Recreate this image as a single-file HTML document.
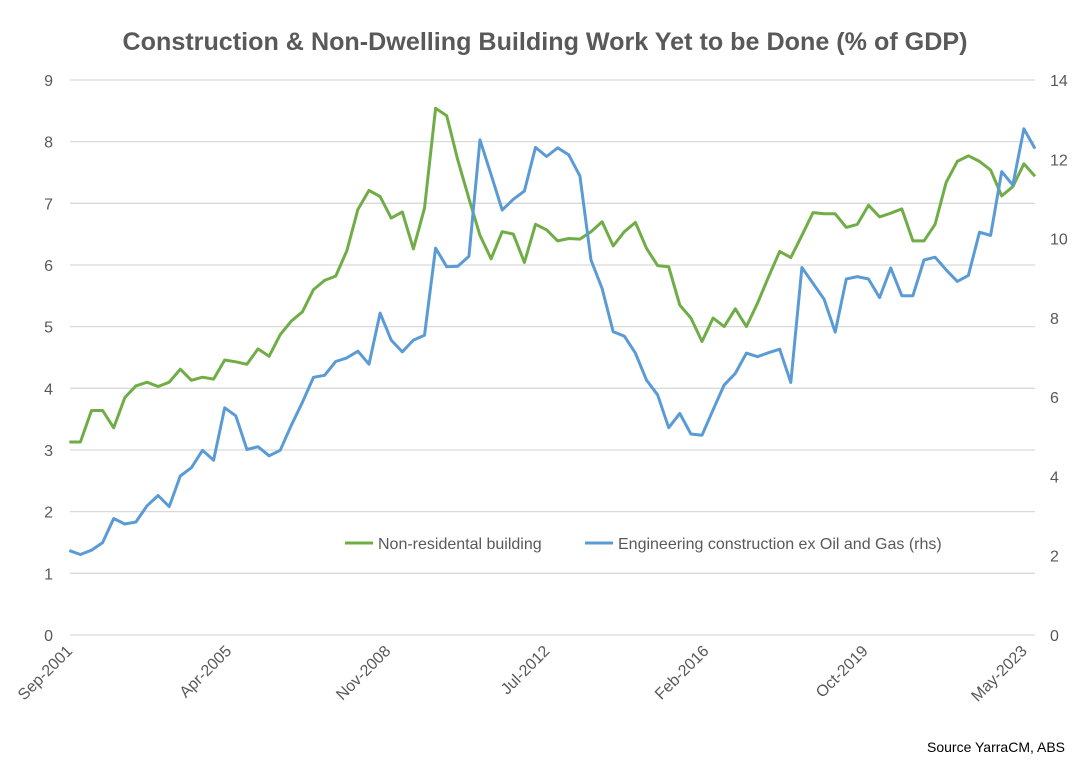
<!DOCTYPE html>
<html><head><meta charset="utf-8"><style>
html,body{margin:0;padding:0;background:#fff;}
svg{display:block;font-family:"Liberation Sans Narrow","Liberation Sans",sans-serif;}
</style></head><body>
<svg id="chart" width="1084" height="780" viewBox="0 0 1084 780" xmlns="http://www.w3.org/2000/svg">
<text x="545" y="50" text-anchor="middle" font-size="25" font-weight="bold" fill="#595959" textLength="845" lengthAdjust="spacingAndGlyphs">Construction &amp; Non-Dwelling Building Work Yet to be Done (% of GDP)</text>
<g id="grid"></g>
<g id="yl"></g>
<g id="yr"></g>
<g id="xl"></g>
<g id="series"></g>
<g>
<line x1="345" y1="543" x2="373" y2="543" stroke="#70AD47" stroke-width="3"/>
<text x="378" y="549" font-size="16" fill="#595959">Non-residental building</text>
<line x1="585" y1="543" x2="613" y2="543" stroke="#5B9BD5" stroke-width="3"/>
<text x="618" y="549" font-size="16" fill="#595959">Engineering construction ex Oil and Gas (rhs)</text>
</g>
<text x="1065" y="752" text-anchor="end" font-size="14" fill="#000">Source YarraCM, ABS</text>
</svg>
<script>
const nonResidential = [3.13,3.13,3.64,3.64,3.36,3.85,4.04,4.10,4.03,4.10,4.31,4.13,4.18,4.15,4.46,4.43,4.39,4.64,4.52,4.87,5.09,5.24,5.60,5.75,5.82,6.23,6.90,7.21,
7.11,6.76,6.86,6.26,6.92,8.54,8.42,7.70,7.08,6.48,6.10,6.54,6.50,6.04,6.66,6.57,6.39,6.43,6.42,6.54,6.70,6.31,6.54,6.69,6.27,5.99,5.97,5.35,5.14,
4.76,5.14,5.00,5.29,5.00,5.38,5.81,6.22,6.12,6.48,6.85,6.83,6.83,6.61,6.66,6.97,6.78,6.84,6.91,6.39,6.39,6.66,7.34,7.68,7.77,7.68,7.54,7.12,7.27,7.64,7.44];
const engineering = [2.13,2.03,2.14,2.33,2.94,2.80,2.85,3.26,3.52,3.24,4.01,4.22,4.66,4.41,5.73,5.53,4.68,4.75,4.52,4.66,5.29,5.87,6.50,6.55,6.90,6.99,7.16,6.83,
8.12,7.44,7.14,7.44,7.56,9.76,9.29,9.30,9.55,12.49,11.61,10.72,10.99,11.20,12.30,12.07,12.29,12.11,11.58,9.46,8.74,7.65,7.54,7.11,6.43,6.06,5.23,5.59,5.07,
5.04,5.68,6.31,6.60,7.11,7.02,7.12,7.21,6.37,9.27,8.87,8.47,7.64,8.98,9.04,8.98,8.51,9.26,8.56,8.56,9.46,9.53,9.21,8.92,9.07,10.16,10.08,11.69,11.35,12.77,12.27];
const leftTicks = [0,1,2,3,4,5,6,7,8,9];
const rightTicks = [0,2,4,6,8,10,12,14];
const xLabels = ["Sep-2001","Apr-2005","Nov-2008","Jul-2012","Feb-2016","Oct-2019","May-2023"];
const xLabelMonths = [0,43,86,129,172,215,258];

const NS="http://www.w3.org/2000/svg";
const X0=69.3, DX=11.1, Y0=635, PX=61.67;
const xs=i=>X0+i*DX;
const yL=v=>Y0-v*PX;
const yR=v=>Y0-v*(555/14);
function mk(tag,attrs,parent){const e=document.createElementNS(NS,tag);for(const k in attrs)e.setAttribute(k,attrs[k]);parent.appendChild(e);return e;}
const grid=document.getElementById('grid'),yl=document.getElementById('yl'),yr=document.getElementById('yr'),xl=document.getElementById('xl'),ser=document.getElementById('series');
leftTicks.forEach(v=>{
  const l=mk('line',{x1:70,x2:1035,y1:yL(v),y2:yL(v),stroke:'#d9d9d9','stroke-width':1.3},grid);
  
  
  const t=mk('text',{x:53,y:yL(v)+6,'text-anchor':'end','font-size':16,fill:'#595959'},yl);
  t.textContent=v;
  
  
});
rightTicks.forEach(v=>{
  const t=mk('text',{x:1050,y:yR(v)+6,'text-anchor':'start','font-size':16,fill:'#595959'},yr);
  t.textContent=v;
  
  
});
xLabels.forEach((s,k)=>{
  const x=xs(xLabelMonths[k]/3)+4, y=652;
  const t=mk('text',{x:x,y:y,'text-anchor':'end','font-size':16,fill:'#595959',transform:`rotate(-45 ${x} ${y})`},xl);
  t.textContent=s;
  
  
});
function path(arr,fy,color,name){
  const d=arr.map((v,i)=>(i?'L':'M')+xs(i).toFixed(1)+','+fy(v).toFixed(1)).join('');
  const p=mk('path',{d:d,fill:'none',stroke:color,'stroke-width':3,'stroke-linejoin':'round'},ser);
  
  
}
path(nonResidential,yL,'#70AD47','non-residential-line');
path(engineering,yR,'#5B9BD5','engineering-line');
</script>
</body></html>
